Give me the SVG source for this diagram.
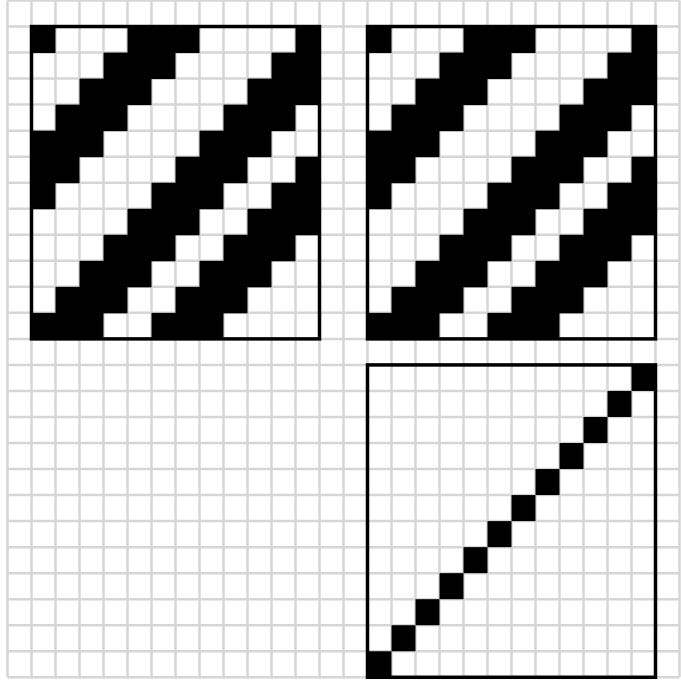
<svg xmlns="http://www.w3.org/2000/svg" xmlns:xlink="http://www.w3.org/1999/xlink" width="681" height="684" viewBox="0 0 681 684">
<style>
.g{stroke:#d6d6d6;stroke-width:2.5;fill:none}
.b{fill:#000}
.frame{fill:none;stroke:#000;stroke-width:3.5}
</style>
<defs>
<g id="stripes">
<rect class="b" x="0" y="0" width="24" height="26.5"/><rect class="b" x="96" y="0" width="72" height="26.5"/><rect class="b" x="264" y="0" width="24" height="26.5"/>
<rect class="b" x="72" y="26.03" width="72" height="26.5"/><rect class="b" x="240" y="26.03" width="48" height="26.5"/>
<rect class="b" x="48" y="52.06" width="72" height="26.5"/><rect class="b" x="216" y="52.06" width="72" height="26.5"/>
<rect class="b" x="24" y="78.09" width="72" height="26.5"/><rect class="b" x="192" y="78.09" width="72" height="26.5"/>
<rect class="b" x="0" y="104.12" width="72" height="26.5"/><rect class="b" x="168" y="104.12" width="72" height="26.5"/>
<rect class="b" x="0" y="130.15" width="48" height="26.5"/><rect class="b" x="144" y="130.15" width="72" height="26.5"/><rect class="b" x="264" y="130.15" width="24" height="26.5"/>
<rect class="b" x="0" y="156.18" width="24" height="26.5"/><rect class="b" x="120" y="156.18" width="72" height="26.5"/><rect class="b" x="240" y="156.18" width="48" height="26.5"/>
<rect class="b" x="96" y="182.21" width="72" height="26.5"/><rect class="b" x="216" y="182.21" width="72" height="26.5"/>
<rect class="b" x="72" y="208.24" width="72" height="26.5"/><rect class="b" x="192" y="208.24" width="72" height="26.5"/>
<rect class="b" x="48" y="234.27" width="72" height="26.5"/><rect class="b" x="168" y="234.27" width="72" height="26.5"/>
<rect class="b" x="24" y="260.3" width="72" height="26.5"/><rect class="b" x="144" y="260.3" width="72" height="26.5"/>
<rect class="b" x="0" y="286.33" width="72" height="26.03"/><rect class="b" x="120" y="286.33" width="72" height="26.03"/>
<rect class="frame" x="0" y="0" width="288" height="312.36"/>
</g>
</defs>
<rect width="681" height="684" fill="#fff"/>
<g id="grid">
<path class="g" d="M7.5 0.5V677.3M31.5 0.5V677.3M55.5 0.5V677.3M79.5 0.5V677.3M103.5 0.5V677.3M127.5 0.5V677.3M151.5 0.5V677.3M175.5 0.5V677.3M199.5 0.5V677.3M223.5 0.5V677.3M247.5 0.5V677.3M271.5 0.5V677.3M295.5 0.5V677.3M319.5 0.5V677.3M343.5 0.5V677.3M367.5 0.5V677.3M391.5 0.5V677.3M415.5 0.5V677.3M439.5 0.5V677.3M463.5 0.5V677.3M487.5 0.5V677.3M511.5 0.5V677.3M535.5 0.5V677.3M559.5 0.5V677.3M583.5 0.5V677.3M607.5 0.5V677.3M631.5 0.5V677.3M655.5 0.5V677.3M679.5 0.5V677.3"/>
<path class="g" d="M7.5 0.5H679.5M7.5 26.53H679.5M7.5 52.56H679.5M7.5 78.59H679.5M7.5 104.62H679.5M7.5 130.65H679.5M7.5 156.68H679.5M7.5 182.71H679.5M7.5 208.74H679.5M7.5 234.77H679.5M7.5 260.8H679.5M7.5 286.83H679.5M7.5 312.86H679.5M7.5 338.89H679.5M7.5 364.92H679.5M7.5 390.95H679.5M7.5 416.98H679.5M7.5 443.01H679.5M7.5 469.04H679.5M7.5 495.07H679.5M7.5 521.1H679.5M7.5 547.13H679.5M7.5 573.16H679.5M7.5 599.19H679.5M7.5 625.22H679.5M7.5 651.25H679.5M7.5 677.28H679.5"/>
</g>
<g id="panel-top-left" transform="translate(31.5,26.53)">
<use xlink:href="#stripes" href="#stripes"/>
</g>
<g id="panel-top-right" transform="translate(367.5,26.53)">
<use xlink:href="#stripes" href="#stripes"/>
</g>
<g id="panel-bottom-right" transform="translate(367.5,364.92)">
<rect class="b" x="264" y="0" width="24" height="26.03"/>
<rect class="b" x="240" y="26.03" width="24" height="26.03"/>
<rect class="b" x="216" y="52.06" width="24" height="26.03"/>
<rect class="b" x="192" y="78.09" width="24" height="26.03"/>
<rect class="b" x="168" y="104.12" width="24" height="26.03"/>
<rect class="b" x="144" y="130.15" width="24" height="26.03"/>
<rect class="b" x="120" y="156.18" width="24" height="26.03"/>
<rect class="b" x="96" y="182.21" width="24" height="26.03"/>
<rect class="b" x="72" y="208.24" width="24" height="26.03"/>
<rect class="b" x="48" y="234.27" width="24" height="26.03"/>
<rect class="b" x="24" y="260.3" width="24" height="26.03"/>
<rect class="b" x="0" y="286.33" width="24" height="26.03"/>
<rect class="frame" x="0" y="0" width="288" height="312.36"/>
</g>
</svg>
